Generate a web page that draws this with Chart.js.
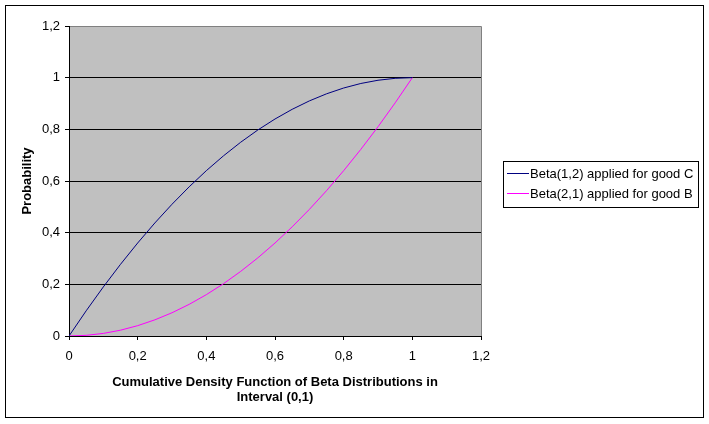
<!DOCTYPE html>
<html>
<head>
<meta charset="utf-8">
<script src="https://cdn.jsdelivr.net/npm/chart.js@4.4.0/dist/chart.umd.min.js"></script>
<style>
html,body{margin:0;padding:0;background:#fff;}
#wrap{position:relative;width:709px;height:424px;}
</style>
</head>
<body>
<div id="wrap"><canvas id="c" width="709" height="424"></canvas></div>
<script>
const xValues = [0,0.05,0.1,0.15,0.2,0.25,0.3,0.35,0.4,0.45,0.5,0.55,0.6,0.65,0.7,0.75,0.8,0.85,0.9,0.95,1];
const betaC = [0,0.0975,0.19,0.2775,0.36,0.4375,0.51,0.5775,0.64,0.6975,0.75,0.7975,0.84,0.8775,0.91,0.9375,0.96,0.9775,0.99,0.9975,1];
const betaB = [0,0.0025,0.01,0.0225,0.04,0.0625,0.09,0.1225,0.16,0.2025,0.25,0.3025,0.36,0.4225,0.49,0.5625,0.64,0.7225,0.81,0.9025,1];
const seriesLabels = ['Beta(1,2) applied for good C','Beta(2,1) applied for good B'];
const seriesColors = ['#000080','#ff00ff'];
const yTitle = 'Probability';
const xTitle = ['Cumulative Density Function of Beta Distributions in','Interval (0,1)'];

const fmt = v => (Math.round(v*10)/10).toString().replace('.', ',');

const bgPlugin = {
  id:'bg',
  beforeDraw(chart){
    const {ctx, chartArea:a} = chart;
    ctx.save();
    ctx.fillStyle='#fff'; ctx.fillRect(0,0,chart.width,chart.height);
    ctx.strokeStyle='#000'; ctx.lineWidth=1;
    ctx.strokeRect(5.5,5.5,698,412);
    ctx.fillStyle='#c0c0c0';
    ctx.fillRect(a.left,a.top,a.right-a.left,a.bottom-a.top);
    ctx.strokeStyle='#808080';
    ctx.beginPath();
    ctx.moveTo(a.left,a.top+0.5); ctx.lineTo(a.right+0.5,a.top+0.5); ctx.lineTo(a.right+0.5,a.bottom);
    ctx.stroke();
    ctx.restore();
  },
  afterDraw(chart){
    const ctx = chart.ctx;
    ctx.save();
    const x0=503.5,y0=161.5,w=195,h=46;
    ctx.fillStyle='#fff'; ctx.fillRect(x0,y0,w,h);
    ctx.strokeStyle='#000'; ctx.lineWidth=1; ctx.strokeRect(x0,y0,w,h);
    ctx.font='13px "Liberation Sans", Arial, sans-serif';
    ctx.textBaseline='middle';
    chart.data.datasets.forEach((ds,i)=>{
      const y = 173.5 + i*20;
      ctx.strokeStyle=ds.borderColor; ctx.beginPath(); ctx.moveTo(507,y); ctx.lineTo(529,y); ctx.stroke();
      ctx.fillStyle='#000'; ctx.fillText(ds.label,530,y+0.5);
    });
    ctx.restore();
  }
};

new Chart(document.getElementById('c'),{
  type:'scatter',
  data:{datasets:[
    {label:seriesLabels[0],data:xValues.map((x,i)=>({x,y:betaC[i]})),borderColor:seriesColors[0],backgroundColor:seriesColors[0],showLine:true,pointRadius:0,borderWidth:1,tension:0},
    {label:seriesLabels[1],data:xValues.map((x,i)=>({x,y:betaB[i]})),borderColor:seriesColors[1],backgroundColor:seriesColors[1],showLine:true,pointRadius:0,borderWidth:1,tension:0}
  ]},
  options:{
    responsive:false,animation:false,
    layout:{padding:{left:20,right:228,top:26,bottom:19}},
    plugins:{legend:{display:false},tooltip:{enabled:false}},
    scales:{
      x:{type:'linear',min:0,max:1.2,
        afterFit(s){s.height=69;},
        ticks:{stepSize:0.2,callback:fmt,color:'#000',padding:9,maxRotation:0,font:{family:'"Liberation Sans", Arial',size:13}},
        grid:{drawOnChartArea:false,drawTicks:true,tickLength:4,tickColor:'#000'},
        border:{color:'#000'},
        title:{display:true,text:xTitle,color:'#000',padding:0,font:{family:'"Liberation Sans", Arial',size:13,weight:'bold',lineHeight:1.15}}
      },
      y:{type:'linear',min:0,max:1.2,
        afterFit(s){s.width=49;},
        ticks:{stepSize:0.2,callback:fmt,color:'#000',padding:5,font:{family:'"Liberation Sans", Arial',size:13}},
        grid:{color:c=>c.tick&&Math.abs(c.tick.value-1.2)<1e-6?'#808080':'#000',drawTicks:true,tickLength:4,tickColor:'#000'},
        border:{color:'#000'},
        title:{display:true,text:yTitle,color:'#000',padding:0,font:{family:'"Liberation Sans", Arial',size:13,weight:'bold',lineHeight:1.15}}
      }
    }
  },
  plugins:[bgPlugin]
});
</script>
</body>
</html>
